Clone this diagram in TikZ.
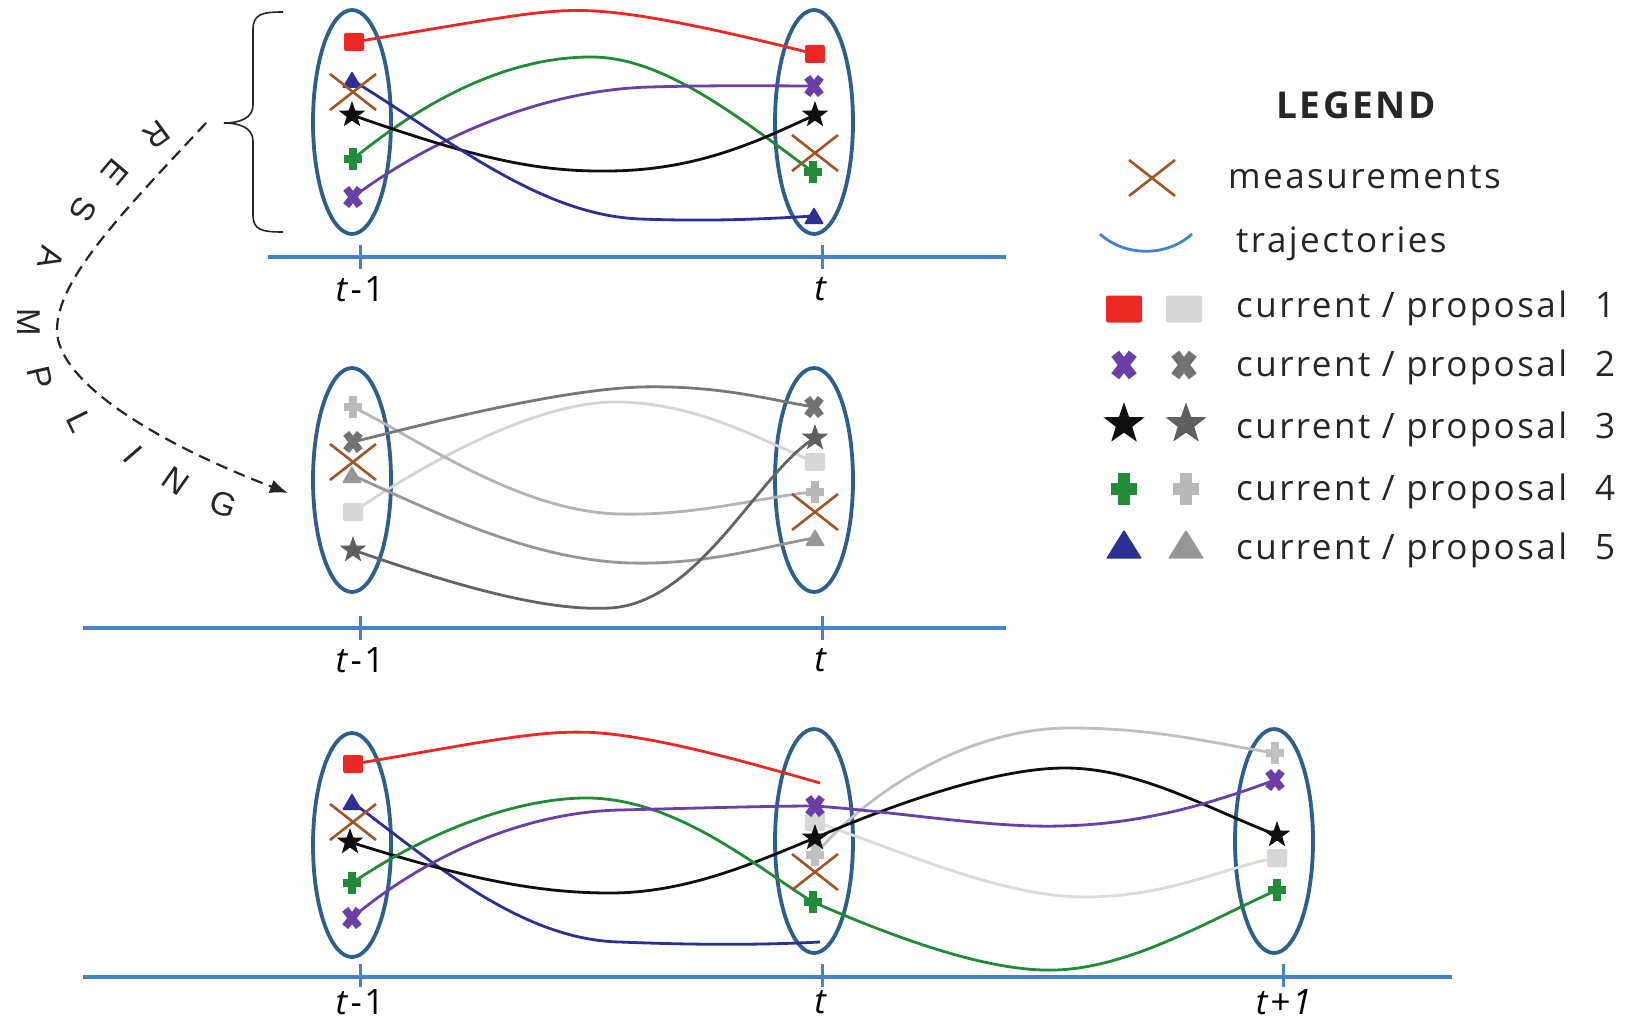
\documentclass[tikz,border=0pt]{standalone}
\usepackage{fontspec}
\setmainfont{Open Sans}
\newfontfamily\legfont[LetterSpace=7]{Open Sans}
\newfontfamily\rsfont{Liberation Sans}
\usetikzlibrary{arrows.meta}
\definecolor{cR}{RGB}{236,40,36}
\definecolor{cG}{RGB}{34,139,58}
\definecolor{cP}{RGB}{107,63,168}
\definecolor{cB}{RGB}{45,47,150}
\definecolor{cK}{RGB}{15,15,15}
\definecolor{cM}{RGB}{160,84,40}
\definecolor{cE}{RGB}{46,94,140}
\definecolor{cA}{RGB}{70,130,200}
\definecolor{p1}{RGB}{215,215,215}
\definecolor{p2}{RGB}{115,115,115}
\definecolor{p3}{RGB}{95,95,95}
\definecolor{p4}{RGB}{185,185,185}
\definecolor{p5}{RGB}{150,150,150}
\definecolor{g1c}{RGB}{212,212,212}
\definecolor{g2c}{RGB}{120,120,120}
\definecolor{g3c}{RGB}{100,100,100}
\definecolor{g4c}{RGB}{180,180,180}
\definecolor{g5c}{RGB}{150,150,150}
\definecolor{gAc}{RGB}{218,218,218}
\definecolor{gBc}{RGB}{192,192,192}
\tikzset{
  ell/.style={draw=cE, line width=3.8pt},
  axisline/.style={draw=cA, line width=3.6pt},
  tickline/.style={draw=cA, line width=3pt},
  traj/.style={line width=2.8pt},
  lab/.style={font=\legfont\fontsize{35}{38}\selectfont, inner sep=0pt},
  legtext/.style={font=\legfont\fontsize{35}{40}\selectfont, inner sep=0pt, text=black!85},
  rsl/.style={font=\rsfont\fontsize{33}{36}\selectfont, inner sep=0pt, text=black!85},
  pics/sqm/.style={code={\fill[#1, rounded corners=2pt] (-10,-9) rectangle (10,9);}},
  pics/xm/.style={code={\fill[#1, rotate=52] (-11,-3.8) rectangle (11,3.8); \fill[#1, rotate=-52] (-11,-3.8) rectangle (11,3.8);}},
  pics/stm/.style={code={\fill[#1] (-90:14) -- (-54:5.6) -- (-18:14) -- (18:5.6) -- (54:14) -- (90:5.6) -- (126:14) -- (162:5.6) -- (198:14) -- (234:5.6) -- cycle;}},
  pics/plm/.style={code={\fill[#1] (-4,-11) rectangle (4,11); \fill[#1] (-9,-4) rectangle (9,4);}},
  pics/trm/.style={code={\fill[#1, rounded corners=1pt] (-10,8) -- (10,8) -- (0,-9) -- cycle;}},
  pics/msm/.style={code={\draw[#1, line width=2.6pt] (-23,-18) -- (23,18) (-23,18) -- (23,-18);}},
}
\begin{document}
\begin{tikzpicture}[x=1pt,y=-1pt]
\useasboundingbox[fill=white] (0,0) rectangle (1632,1022);

% ---------- ellipses ----------
\draw[ell] (352,122) ellipse [x radius=39pt, y radius=112pt];
\draw[ell] (814,122) ellipse [x radius=39pt, y radius=112pt];
\draw[ell] (352,480) ellipse [x radius=39pt, y radius=112pt];
\draw[ell] (814,480) ellipse [x radius=39pt, y radius=112pt];
\draw[ell] (352,845) ellipse [x radius=39pt, y radius=112pt];
\draw[ell] (814,841) ellipse [x radius=39pt, y radius=112pt];
\draw[ell] (1274,841) ellipse [x radius=39pt, y radius=112pt];

% ---------- axes ----------
\coordinate (ax1a) at (268,257); \coordinate (ax1b) at (1006,257);
\coordinate (ax2a) at (83,628);  \coordinate (ax2b) at (1006,628);
\coordinate (ax3a) at (83,977);  \coordinate (ax3b) at (1452,977);
\draw[axisline] (ax1a) -- (ax1b);
\draw[axisline] (ax2a) -- (ax2b);
\draw[axisline] (ax3a) -- (ax3b);
\foreach \x/\y in {360/257, 822/257, 360/628, 822/628}
  \draw[tickline] (\x,\y-12) -- (\x,\y+12);
\foreach \x in {360, 822, 1283}
  \draw[tickline] (\x,964) -- (\x,987);

\node[lab] (la1) at (360,289) {\textit{t}-1};
\node[lab] (la2) at (822,289) {\textit{t}};
\node[lab] (lb1) at (360,660) {\textit{t}-1};
\node[lab] (lb2) at (822,660) {\textit{t}};
\node[lab] (lc1) at (360,1002) {\textit{t}-1};
\node[lab] (lc2) at (822,1002) {\textit{t}};
\node[lab] (lc3) at (1285,1002) {\textit{t+1}};

% ---------- coordinates ----------
\coordinate (aL1) at (354,42);  \coordinate (aL2) at (353,197); \coordinate (aL3) at (352,115);
\coordinate (aL4) at (353,159); \coordinate (aL5) at (352,80);  \coordinate (aLm) at (353,92);
\coordinate (aR1) at (815,54);  \coordinate (aR2) at (814,86);  \coordinate (aR3) at (815,115);
\coordinate (aR4) at (813,172); \coordinate (aR5) at (814,216); \coordinate (aRm) at (815,153);

\coordinate (bL1) at (353,512); \coordinate (bL2) at (353,442); \coordinate (bL3) at (353,550);
\coordinate (bL4) at (353,407); \coordinate (bL5) at (352,475); \coordinate (bLm) at (353,462);
\coordinate (bR1) at (815,462); \coordinate (bR2) at (814,407); \coordinate (bR3) at (815,438);
\coordinate (bR4) at (815,492); \coordinate (bR5) at (815,538); \coordinate (bRm) at (815,512);

\coordinate (cL1) at (353,764); \coordinate (cL5) at (352,802); \coordinate (cLm) at (353,822);
\coordinate (cL3) at (350,842); \coordinate (cL4) at (352,883); \coordinate (cL2) at (352,918);
\coordinate (cM1) at (820,783); \coordinate (cM2) at (815,806); \coordinate (cMp1) at (815,822);
\coordinate (cM3) at (815,838); \coordinate (cMp4) at (815,855); \coordinate (cMm) at (815,872);
\coordinate (cM4) at (813,902); \coordinate (cM5) at (820,942);
\coordinate (cR4p) at (1275,753); \coordinate (cR2) at (1275,780); \coordinate (cR3) at (1277,835);
\coordinate (cR1p) at (1277,858); \coordinate (cR4) at (1277,890);

% ---------- top trajectories ----------
\draw[traj, cR] (aL1) .. controls (500,18) and (545,8) .. (595,11) .. controls (645,14) and (720,30) .. (aR1);
\draw[traj, cG] (aL4) .. controls (450,80) and (530,57) .. (591,57) .. controls (660,57) and (730,110) .. (aR4);
\draw[traj, cP] (aL2) .. controls (430,140) and (540,90) .. (650,87) .. controls (720,85) and (780,86) .. (aR2);
\draw[traj, cK] (aL3) .. controls (480,160) and (540,172) .. (610,171) .. controls (700,170) and (760,140) .. (aR3);
\draw[traj, cB] (aL5) .. controls (450,140) and (540,215) .. (640,219) .. controls (720,222) and (780,218) .. (aR5);

% ---------- middle trajectories ----------
\draw[traj, g1c] (bL1) .. controls (430,460) and (540,400) .. (620,402) .. controls (700,404) and (760,440) .. (bR1);
\draw[traj, g4c] (bL4) .. controls (420,440) and (520,512) .. (620,514) .. controls (700,516) and (770,495) .. (bR4);
\draw[traj, g5c] (bL5) .. controls (430,510) and (530,560) .. (630,563) .. controls (710,565) and (770,545) .. (bR5);
\draw[traj, g2c] (bL2) .. controls (440,420) and (560,390) .. (640,387) .. controls (720,385) and (770,400) .. (bR2);
\draw[traj, g3c] (bL3) .. controls (440,580) and (540,612) .. (610,608) .. controls (700,603) and (760,470) .. (bR3);

% ---------- bottom trajectories ----------
\draw[traj, gAc] (cMp1) .. controls (900,850) and (1000,897) .. (1085,897) .. controls (1170,897) and (1230,865) .. (cR1p);
\draw[traj, gBc] (cMp4) .. controls (860,800) and (960,728) .. (1070,728) .. controls (1160,728) and (1220,745) .. (cR4p);
\draw[traj, cR] (cL1) .. controls (470,745) and (540,728) .. (600,733) .. controls (660,738) and (740,760) .. (cM1);
\draw[traj, cB] (cL5) .. controls (430,860) and (520,940) .. (620,942) .. controls (720,946) and (780,944) .. (cM5);
\draw[traj, cK] (cL3) .. controls (470,880) and (540,893) .. (610,893) .. controls (690,893) and (760,860) .. (cM3)
  .. controls (880,810) and (990,768) .. (1065,768) .. controls (1140,768) and (1210,810) .. (cR3);
\draw[traj, cG] (cL4) .. controls (430,830) and (520,797) .. (590,798) .. controls (680,800) and (760,870) .. (cM4)
  .. controls (900,940) and (990,972) .. (1055,970) .. controls (1130,968) and (1210,920) .. (cR4);
\draw[traj, cP] (cL2) .. controls (420,860) and (520,812) .. (620,810) .. controls (700,808) and (770,806) .. (cM2)
  .. controls (900,812) and (990,828) .. (1060,826) .. controls (1150,824) and (1220,800) .. (cR2);

% ---------- markers: top ----------
\pic at (aL1) {sqm=cR};
\pic at (aL5) {trm=cB};
\pic at (aLm) {msm=cM};
\pic at (aL3) {stm=cK};
\pic at (aL4) {plm=cG};
\pic at (aL2) {xm=cP};
\pic at (aR1) {sqm=cR};
\pic at (aR2) {xm=cP};
\pic at (aR3) {stm=cK};
\pic at (aR4) {plm=cG};
\pic at (aRm) {msm=cM};
\pic at (aR5) {trm=cB};

% ---------- markers: middle ----------
\pic at (bL4) {plm=p4};
\pic at (bL2) {xm=p2};
\pic at (bL5) {trm=p5};
\pic at (bLm) {msm=cM};
\pic at (bL1) {sqm=p1};
\pic at (bL3) {stm=p3};
\pic at (bR2) {xm=p2};
\pic at (bR3) {stm=p3};
\pic at (bR1) {sqm=p1};
\pic at (bR4) {plm=p4};
\pic at (bRm) {msm=cM};
\pic at (bR5) {trm=p5};

% ---------- markers: bottom ----------
\pic at (cL1) {sqm=cR};
\pic at (cL5) {trm=cB};
\pic at (cLm) {msm=cM};
\pic at (cL3) {stm=cK};
\pic at (cL4) {plm=cG};
\pic at (cL2) {xm=cP};
\pic at (cMp1) {sqm=p1};
\pic at (cMp4) {plm=gBc};
\pic at (cMm) {msm=cM};
\pic at (cM2) {xm=cP};
\pic at (cM3) {stm=cK};
\pic at (cM4) {plm=cG};
\pic at (cR4p) {plm=gBc};
\pic at (cR2) {xm=cP};
\pic at (cR3) {stm=cK};
\pic at (cR1p) {sqm=p1};
\pic at (cR4) {plm=cG};

% ---------- brace ----------
\coordinate (br1) at (283,12); \coordinate (br0) at (224,123); \coordinate (br2) at (283,232);
\draw[line width=1.6pt, black!85] (br1) .. controls (262,12) and (253,14) .. (253,30) -- (253,105)
  .. controls (253,118) and (240,123) .. (br0) .. controls (240,123) and (253,128) .. (253,141)
  -- (253,215) .. controls (253,230) and (262,232) .. (br2);

% ---------- resampling arrow ----------
\coordinate (rsA) at (206,123); \coordinate (rsM) at (57,330); \coordinate (rsB) at (288,493);
\draw[line width=2.2pt, black!85, dash pattern=on 12pt off 7pt, -{Latex[length=18pt,width=14pt]}]
  (rsA) .. controls (120,215) and (57,280) .. (rsM) .. controls (57,380) and (150,440) .. (rsB);
\node[rsl, rotate=-144] (rs1) at (157,135) {R};
\node[rsl, rotate=-130] (rs2) at (115,172) {E};
\node[rsl, rotate=-118] (rs3) at (83,210) {S};
\node[rsl, rotate=-104] (rs4) at (51,258) {A};
\node[rsl, rotate=-90] (rs5) at (29,322) {M};
\node[rsl, rotate=-77] (rs6) at (40,378) {P};
\node[rsl, rotate=-64] (rs7) at (80,422) {L};
\node[rsl, rotate=-49] (rs8) at (133,455) {I};
\node[rsl, rotate=-35] (rs9) at (176,481) {N};
\node[rsl, rotate=-20] (rs10) at (223,504) {G};

% ---------- legend ----------
\node[font=\legfont\bfseries\fontsize{37}{40}\selectfont, inner sep=0pt, anchor=base, text=black!85] (legT) at (1356,119) {LEGEND};
\coordinate (lgM) at (1152,178);
\pic at (lgM) {msm=cM};
\node[legtext, anchor=base west] (lgMt) at (1228,188) {measurements};
\coordinate (lgT1) at (1100,234); \coordinate (lgT2) at (1192,234);
\draw[traj, cA] (lgT1) .. controls (1125,257) and (1167,257) .. (lgT2);
\node[legtext, anchor=base west] (lgTt) at (1236,252) {trajectories};

\coordinate (lg1a) at (1124,309); \coordinate (lg1b) at (1184,309);
\coordinate (lg2a) at (1124,365); \coordinate (lg2b) at (1184,365);
\coordinate (lg3a) at (1124,424); \coordinate (lg3b) at (1186,424);
\coordinate (lg4a) at (1124,489); \coordinate (lg4b) at (1186,489);
\coordinate (lg5a) at (1124,545); \coordinate (lg5b) at (1186,545);
\pic[xscale=1.8, yscale=1.5] at (lg1a) {sqm=cR};
\pic[xscale=1.8, yscale=1.5] at (lg1b) {sqm=p1};
\pic[scale=1.3] at (lg2a) {xm=cP};
\pic[scale=1.3] at (lg2b) {xm=p2};
\pic[scale=1.55] at (lg3a) {stm=cK};
\pic[scale=1.55] at (lg3b) {stm=p3};
\pic[scale=1.45] at (lg4a) {plm=cG};
\pic[scale=1.45] at (lg4b) {plm=p4};
\pic[xscale=1.8, yscale=1.7] at (lg5a) {trm=cB};
\pic[xscale=1.8, yscale=1.7] at (lg5b) {trm=p5};
\node[legtext, anchor=base west] (lg1t) at (1236,317) {current / proposal\hspace{0.8em}1};
\node[legtext, anchor=base west] (lg2t) at (1236,376) {current / proposal\hspace{0.8em}2};
\node[legtext, anchor=base west] (lg3t) at (1236,438) {current / proposal\hspace{0.8em}3};
\node[legtext, anchor=base west] (lg4t) at (1236,500) {current / proposal\hspace{0.8em}4};
\node[legtext, anchor=base west] (lg5t) at (1236,559) {current / proposal\hspace{0.8em}5};
\end{tikzpicture}
\end{document}
